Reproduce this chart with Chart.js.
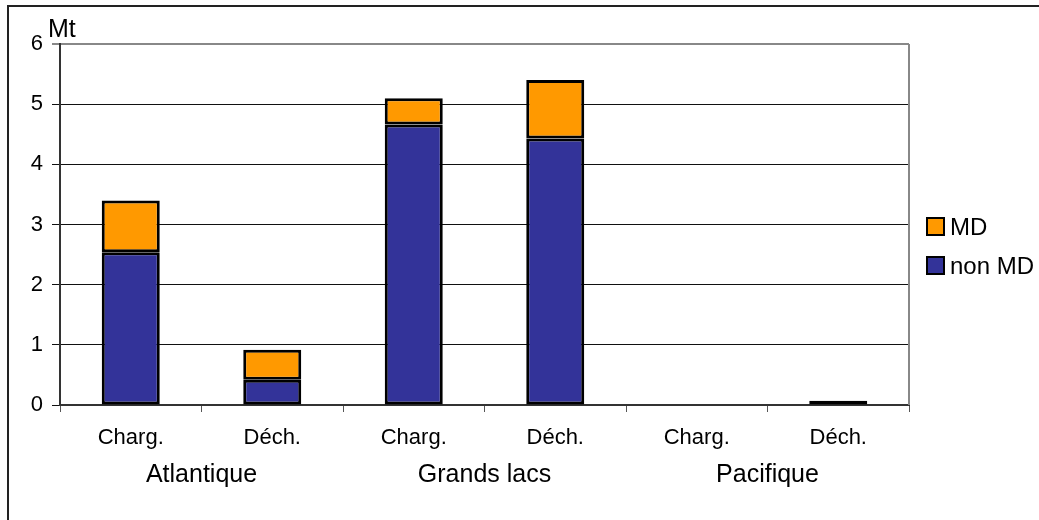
<!DOCTYPE html>
<html>
<head>
<meta charset="utf-8">
<script src="https://cdn.jsdelivr.net/npm/chart.js@4/dist/chart.umd.min.js"></script>
<style>
  html, body { margin: 0; padding: 0; background: #fff; }
  #wrap { width: 1039px; height: 520px; }
</style>
</head>
<body>
<div id="wrap"><canvas id="myChart" width="1039" height="520"></canvas></div>
<script>
var sousCategories = ['Charg.', 'Déch.', 'Charg.', 'Déch.', 'Charg.', 'Déch.'];
var facades = ['Atlantique', 'Grands lacs', 'Pacifique'];
var nonMD = [2.54, 0.42, 4.66, 4.43, 0, 0.05];
var MD = [0.86, 0.5, 0.44, 0.97, 0, 0.02];
var yTicks = [0, 1, 2, 3, 4, 5, 6];

var police = 'Arial, "Liberation Sans", sans-serif';

// cadre, bord droit de la zone de tracé, unité et légende
var decor = {
    id: 'decor',
    beforeDraw: function(chart) {
        var c = chart.ctx;
        c.save();
        c.strokeStyle = '#222';
        c.lineWidth = 2;
        c.beginPath();
        c.moveTo(8, 520);
        c.lineTo(8, 6);
        c.lineTo(1039, 6);
        c.stroke();
        c.restore();
    },
    afterDraw: function(chart) {
        var c = chart.ctx;
        var a = chart.chartArea;
        c.save();
        c.strokeStyle = '#888';
        c.lineWidth = 2;
        c.beginPath();
        c.moveTo(a.right, a.top);
        c.lineTo(a.right, a.bottom);
        c.stroke();

        c.fillStyle = '#000';
        c.font = '25px ' + police;
        c.textBaseline = 'alphabetic';
        c.textAlign = 'left';
        c.fillText('Mt', 48, 37);

        // légende, ordre inversé
        var ds = chart.data.datasets.slice().reverse();
        c.font = '24px ' + police;
        ds.forEach(function(d, i) {
            var y = 218 + i * 39;
            c.fillStyle = d.backgroundColor;
            c.fillRect(927, y, 17, 17);
            c.strokeStyle = '#000';
            c.lineWidth = 2;
            c.strokeRect(927, y, 17, 17);
            c.fillStyle = '#000';
            c.fillText(d.label, 950, y + 17);
        });
        c.restore();
    }
};

var ctx = document.getElementById('myChart').getContext('2d');

var graphData = {
    type: 'bar',
    data: {
        labels: sousCategories,
        datasets: [{
            label: 'non MD',
            data: nonMD,
            backgroundColor: '#333399',
            borderColor: '#000',
            borderWidth: 3,
            borderSkipped: false
        }, {
            label: 'MD',
            data: MD,
            backgroundColor: '#FF9900',
            borderColor: '#000',
            borderWidth: 3,
            borderSkipped: false
        }]
    },
    options: {
        responsive: false,
        animation: false,
        layout: { padding: { left: 0, top: 44, right: 130, bottom: 0 } },
        plugins: {
            legend: { display: false },
            tooltip: { enabled: false }
        },
        datasets: {
            bar: { categoryPercentage: 1, barPercentage: 0.41 }
        },
        scales: {
            x: {
                stacked: true,
                offset: true,
                grid: {
                    offset: true,
                    drawOnChartArea: false,
                    color: '#555',
                    tickLength: 7
                },
                border: { color: '#333', width: 2 },
                ticks: {
                    color: '#000',
                    font: { family: police, size: 22 },
                    padding: 13,
                    maxRotation: 0
                },
                afterFit: function(s) { s.height = 47; }
            },
            x2: {
                type: 'category',
                position: 'bottom',
                labels: facades,
                offset: true,
                grid: { display: false },
                border: { display: false },
                ticks: {
                    color: '#000',
                    font: { family: police, size: 25 },
                    padding: 0,
                    maxRotation: 0
                },
                afterFit: function(s) { s.height = 68; }
            },
            y: {
                stacked: true,
                min: 0,
                max: 6,
                afterBuildTicks: function(s) {
                    s.ticks = yTicks.map(function(v) { return { value: v }; });
                },
                grid: {
                    color: function(c) { return c.tick && c.tick.value === 6 ? '#888' : '#111'; },
                    lineWidth: function(c) { return c.tick && c.tick.value === 6 ? 2 : 1; },
                    tickLength: 8
                },
                border: { color: '#333', width: 2 },
                ticks: {
                    color: '#000',
                    font: { family: police, size: 22 },
                    padding: 9
                },
                afterFit: function(s) { s.width = 60; }
            }
        }
    },
    plugins: [decor]
};

var myChart2 = new Chart(ctx, graphData);
</script>
</body>
</html>
